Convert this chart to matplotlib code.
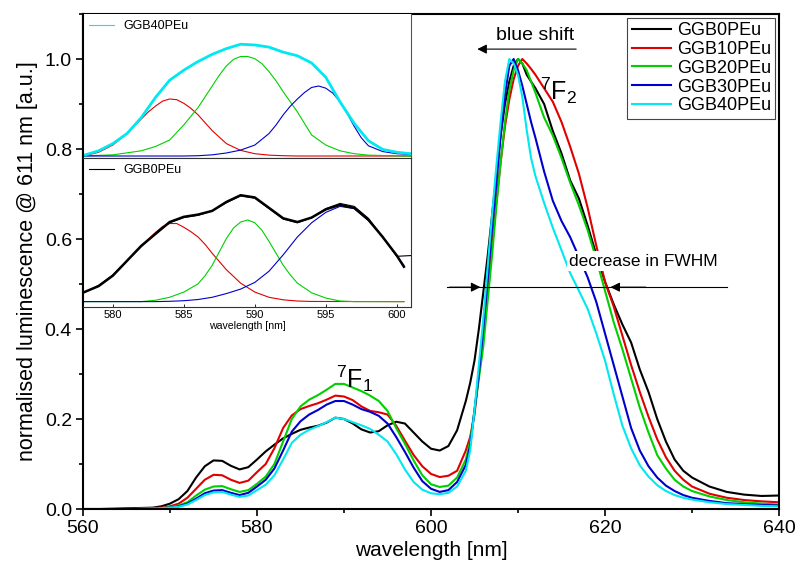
import matplotlib
matplotlib.use("Agg")
import matplotlib.pyplot as plt
from matplotlib.ticker import MultipleLocator

plt.rcParams['font.family'] = ['Liberation Sans', 'DejaVu Sans']
plt.rcParams['mathtext.fontset'] = 'custom'
plt.rcParams['mathtext.rm'] = 'Liberation Sans'

# --- main spectra (normalised @ 611 nm) ---
wl = [560, 562, 564, 566, 568,
      569, 570, 571, 572, 573, 574, 575, 576, 577, 578, 579, 580, 581, 582, 583, 584, 585, 586,
      587, 588, 589, 590, 591, 592, 593, 594, 595, 596, 597, 598, 599, 600, 601, 602, 603, 604,
      604.5, 605, 605.5, 606, 606.5, 607, 607.5, 608, 608.5, 609, 609.5, 610, 610.5, 611, 611.5, 612,
      613, 614, 615, 616, 617, 618, 619, 620, 621, 622, 623, 624, 625, 626, 627, 628, 629, 630,
      632, 634, 636, 638, 640]

ggb0 = [0.0, 0.0, 0.001, 0.002, 0.003,
        0.006, 0.012, 0.022, 0.04, 0.07, 0.095, 0.108, 0.107, 0.096, 0.088, 0.093, 0.11, 0.128, 0.143,
        0.157, 0.167, 0.176, 0.181, 0.185, 0.192, 0.203, 0.2, 0.19, 0.177, 0.17, 0.173, 0.186, 0.194,
        0.19, 0.17, 0.15, 0.134, 0.13, 0.14, 0.175, 0.24,
        0.28, 0.33, 0.4, 0.48, 0.56, 0.65, 0.74, 0.83, 0.9, 0.95, 0.985, 1.0, 0.99, 0.965, 0.95, 0.935,
        0.9, 0.84, 0.79, 0.73, 0.69, 0.63, 0.565, 0.505, 0.455, 0.41, 0.37, 0.31, 0.26, 0.2, 0.15, 0.11,
        0.085, 0.07,
        0.05, 0.038, 0.032, 0.029, 0.03]

ggb10 = [0.0, 0.0, 0.0, 0.001, 0.002,
         0.003, 0.006, 0.012, 0.025, 0.045, 0.065, 0.076, 0.075, 0.065, 0.058, 0.063, 0.082, 0.1, 0.135,
         0.18, 0.208, 0.222, 0.229, 0.235, 0.243, 0.252, 0.25, 0.242, 0.228, 0.218, 0.215, 0.21, 0.185,
         0.152, 0.12, 0.095, 0.078, 0.071, 0.074, 0.085, 0.13,
         0.16, 0.21, 0.3, 0.39, 0.49, 0.58, 0.68, 0.77, 0.85, 0.91, 0.955, 0.985, 1.0, 0.99, 0.978, 0.965,
         0.935, 0.905, 0.86, 0.805, 0.745, 0.67, 0.585, 0.505, 0.45, 0.385, 0.32, 0.26, 0.205, 0.155,
         0.115, 0.085, 0.065, 0.05,
         0.034, 0.025, 0.02, 0.017, 0.015]

ggb20 = [0.0, 0.0, 0.0, 0.0, 0.001,
         0.002, 0.004, 0.008, 0.015, 0.03, 0.043, 0.05, 0.051, 0.044, 0.038, 0.042, 0.056, 0.072, 0.1,
         0.15, 0.2, 0.228, 0.243, 0.253, 0.265, 0.278, 0.278, 0.27, 0.262, 0.252, 0.24, 0.218, 0.18,
         0.145, 0.108, 0.075, 0.055, 0.049, 0.052, 0.07, 0.11,
         0.15, 0.22, 0.29, 0.36, 0.46, 0.56, 0.67, 0.77, 0.86, 0.93, 0.975, 1.0, 0.99, 0.975, 0.95, 0.925,
         0.87, 0.83, 0.78, 0.725, 0.675, 0.62, 0.555, 0.485, 0.415, 0.355, 0.29, 0.225, 0.17, 0.12,
         0.09, 0.065, 0.05, 0.04,
         0.028, 0.02, 0.015, 0.012, 0.01]

ggb30 = [0.0, 0.0, 0.0, 0.0, 0.001,
         0.002, 0.003, 0.006, 0.012, 0.023, 0.035, 0.041, 0.042, 0.036, 0.031, 0.036, 0.05, 0.065, 0.09,
         0.13, 0.172, 0.195, 0.21, 0.22, 0.232, 0.24, 0.24, 0.232, 0.222, 0.216, 0.207, 0.19, 0.16,
         0.127, 0.092, 0.062, 0.045, 0.038, 0.042, 0.06, 0.098,
         0.14, 0.22, 0.3, 0.4, 0.51, 0.62, 0.72, 0.83, 0.92, 0.985, 1.0, 0.975, 0.94, 0.9, 0.86, 0.825,
         0.75, 0.685, 0.64, 0.604, 0.56, 0.515, 0.46, 0.39, 0.32, 0.25, 0.18, 0.13, 0.095, 0.07,
         0.052, 0.04, 0.031, 0.025,
         0.018, 0.013, 0.011, 0.009, 0.008]

ggb40 = [0.0, 0.0, 0.0, 0.0, 0.001,
         0.002, 0.003, 0.005, 0.01, 0.02, 0.031, 0.037, 0.038, 0.032, 0.027, 0.03, 0.042, 0.054, 0.075,
         0.11, 0.147, 0.165, 0.176, 0.184, 0.193, 0.203, 0.2, 0.193, 0.186, 0.178, 0.165, 0.15, 0.122,
         0.088, 0.06, 0.043, 0.035, 0.033, 0.036, 0.05, 0.085,
         0.13, 0.22, 0.32, 0.42, 0.535, 0.65, 0.76, 0.86, 0.95, 1.0, 0.99, 0.965, 0.915, 0.842, 0.78, 0.74,
         0.68, 0.625, 0.575, 0.524, 0.485, 0.445, 0.39, 0.33, 0.255, 0.185, 0.135, 0.097, 0.072, 0.053,
         0.04, 0.031, 0.025, 0.021,
         0.015, 0.011, 0.009, 0.007, 0.006]

labels = ['GGB0PEu', 'GGB10PEu', 'GGB20PEu', 'GGB30PEu', 'GGB40PEu']
colors = ['black', '#e00000', '#00d000', '#0000cc', '#00e8f0']

# --- inset 1: GGB40PEu, 7F1 band with three fitted components ---
wl_in1 = [578, 579, 580, 581, 582, 583, 584, 585, 586, 587, 588, 589,
          590, 591, 592, 593, 594, 595, 596, 597, 598, 599, 600, 601]
in1_data = [0.02, 0.05, 0.1, 0.17, 0.28, 0.42, 0.54, 0.61, 0.67, 0.72, 0.76, 0.79,
            0.785, 0.77, 0.735, 0.71, 0.66, 0.56, 0.39, 0.24, 0.12, 0.06, 0.04, 0.03]
wl_in1_red = [578, 579, 580, 581, 581.5, 582, 582.5, 583, 583.5, 584, 584.5, 585, 585.5,
              586, 586.5, 587, 588, 589, 590, 591, 592, 593, 601]
in1_red = [0.015, 0.04, 0.09, 0.17, 0.22, 0.27, 0.32, 0.36, 0.395, 0.41, 0.405, 0.38, 0.345,
           0.3, 0.245, 0.19, 0.1, 0.053, 0.03, 0.02, 0.016, 0.014, 0.014]
wl_in1_green = [578, 580, 582, 583, 584, 585, 585.5, 586, 586.5, 587, 587.5, 588, 588.5, 589,
                589.5, 590, 590.5, 591, 591.5, 592, 592.5, 593, 594, 595, 596, 597, 598, 600, 601]
in1_green = [0.015, 0.022, 0.05, 0.08, 0.125, 0.23, 0.29, 0.35, 0.425, 0.5, 0.575, 0.64, 0.685, 0.705,
             0.705, 0.69, 0.655, 0.6, 0.535, 0.46, 0.39, 0.32, 0.16, 0.09, 0.05, 0.03, 0.02, 0.015, 0.014]
wl_in1_blue = [578, 585, 586, 587, 588, 589, 590, 591, 591.5, 592, 592.5, 593, 593.5, 594,
               594.5, 595, 595.5, 596, 596.5, 597, 597.5, 598, 599, 600, 601]
in1_blue = [0.014, 0.014, 0.016, 0.022, 0.035, 0.055, 0.09, 0.17, 0.23, 0.3, 0.36, 0.41, 0.455, 0.49,
            0.5, 0.485, 0.45, 0.39, 0.31, 0.22, 0.14, 0.085, 0.045, 0.03, 0.025]

# --- inset 2: GGB0PEu ---
wl_in2 = [578, 579, 580, 581, 582, 583, 584, 585, 586, 587, 588, 589,
          590, 591, 592, 593, 594, 595, 596, 597, 598, 599, 600, 600.5]
wl_in2_raw = [578, 579, 580, 581, 582, 583, 584, 585, 586, 587, 588, 589,
              590, 591, 592, 593, 594, 595, 596, 597, 598, 599, 600, 601]
in2_raw = [0.1, 0.145, 0.215, 0.31, 0.405, 0.49, 0.565, 0.6, 0.615, 0.645, 0.7, 0.745,
           0.73, 0.66, 0.59, 0.565, 0.6, 0.66, 0.695, 0.675, 0.595, 0.47, 0.34, 0.345]
in2_fit = [0.1, 0.14, 0.21, 0.31, 0.41, 0.49, 0.57, 0.605, 0.62, 0.645, 0.705, 0.75,
           0.735, 0.665, 0.595, 0.57, 0.6, 0.655, 0.685, 0.665, 0.585, 0.47, 0.345, 0.27]
wl_in2_red = [578, 579, 580, 581, 582, 583, 583.5, 584, 584.5, 585, 585.5, 586, 586.5, 587, 587.5,
              588, 589, 590, 591, 592, 593, 594, 600.5]
in2_red = [0.1, 0.14, 0.21, 0.31, 0.41, 0.5, 0.54, 0.56, 0.56, 0.535, 0.505, 0.47, 0.42, 0.36, 0.305,
           0.25, 0.16, 0.1, 0.065, 0.048, 0.04, 0.037, 0.036]
wl_in2_green = [578, 582, 583, 584, 585, 586, 586.5, 587, 587.5, 588, 588.5, 589, 589.5, 590,
                590.5, 591, 591.5, 592, 592.5, 593, 594, 595, 596, 597, 600.5]
in2_green = [0.036, 0.036, 0.045, 0.065, 0.1, 0.155, 0.21, 0.28, 0.37, 0.46, 0.53, 0.57, 0.584, 0.565,
             0.515, 0.44, 0.36, 0.28, 0.215, 0.16, 0.095, 0.06, 0.04, 0.036, 0.036]
in2_blue = [0.036, 0.036, 0.036, 0.036, 0.036, 0.036, 0.038, 0.042, 0.05, 0.065, 0.09, 0.12,
            0.165, 0.24, 0.35, 0.47, 0.565, 0.635, 0.675, 0.66, 0.58, 0.475, 0.34, 0.28]

fig = plt.figure(figsize=(7.95, 5.74), dpi=100)
ax = fig.add_axes([0.1044, 0.1132, 0.8755, 0.8624])

for y, lab, c in zip([ggb0, ggb10, ggb20, ggb30, ggb40], labels, colors):
    ax.plot(wl, y, color=c, lw=1.5, label=lab)

ax.set_xlim(560, 640)
ax.set_ylim(0, 1.1)
ax.xaxis.set_major_locator(MultipleLocator(20))
ax.xaxis.set_minor_locator(MultipleLocator(10))
ax.yaxis.set_major_locator(MultipleLocator(0.2))
ax.yaxis.set_minor_locator(MultipleLocator(0.1))
ax.yaxis.set_major_formatter(plt.FuncFormatter(lambda v, p: f'{v:.1f}'))
ax.tick_params(which='major', direction='out', length=5, width=1.2, labelsize=14, pad=3)
ax.tick_params(which='minor', direction='out', length=3, width=1.2)
for s in ax.spines.values():
    s.set_linewidth(1.5)
ax.set_xlabel('wavelength [nm]', fontsize=15, labelpad=3)
ax.set_ylabel('normalised luminescence @ 611 nm [a.u.]', fontsize=15.5, labelpad=5)

leg = ax.legend(loc='upper right', fontsize=13, handlelength=2.2, handletextpad=0.3,
                labelspacing=0.1, borderpad=0.25, borderaxespad=0.2, fancybox=False,
                edgecolor='#444444', framealpha=1)
leg.get_frame().set_linewidth(0.8)

# annotations
ax.text(611.95, 1.053, 'blue shift', fontsize=14, ha='center', va='center')
ax.annotate('', xy=(605.0, 1.022), xytext=(617.0, 1.022),
            arrowprops=dict(arrowstyle='-|>', color='black', lw=0.8, mutation_scale=14))
ax.text(614.7, 0.93, r'$\mathregular{^7F_2}$', fontsize=18, ha='center', va='center')
ax.text(591.2, 0.29, r'$\mathregular{^7F_1}$', fontsize=18, ha='center', va='center')
ax.plot([601.8, 634.0], [0.493, 0.493], color='black', lw=0.8)
ax.annotate('', xy=(606.0, 0.493), xytext=(601.8, 0.493),
            arrowprops=dict(arrowstyle='-|>', color='black', lw=0.8, mutation_scale=14))
ax.annotate('', xy=(620.3, 0.493), xytext=(625.0, 0.493),
            arrowprops=dict(arrowstyle='-|>', color='black', lw=0.8, mutation_scale=14))
ax.text(624.4, 0.551, 'decrease in FWHM', fontsize=12.5, ha='center', va='center',
        bbox=dict(facecolor='white', edgecolor='none', pad=1.5))

# inset 1
ax1 = fig.add_axes([0.1044, 0.7247, 0.4126, 0.2509])
ax1.plot(wl_in1_red, in1_red, color='#e00000', lw=0.8)
ax1.plot(wl_in1_green, in1_green, color='#00d000', lw=0.8)
ax1.plot(wl_in1_blue, in1_blue, color='#0000cc', lw=0.8)
ax1.plot(wl_in1, in1_data, color='#00e8f0', lw=2.0)
ax1.plot([], [], color='#00e8f0', lw=0.8, label='GGB40PEu')
ax1.legend(loc='upper left', fontsize=9, frameon=False, handlelength=2.0,
           handletextpad=0.7, borderaxespad=0.2, borderpad=0.3)
ax1.set_xlim(577.9, 601)
ax1.set_ylim(0, 1)
ax1.set_yticks([])
ax1.xaxis.set_major_locator(MultipleLocator(5))
ax1.xaxis.set_minor_locator(MultipleLocator(2.5))
ax1.tick_params(axis='x', which='both', direction='out', length=3, width=0.8, labelbottom=False)
for k, s in ax1.spines.items():
    s.set_linewidth(0.8)
    s.set_color('#555555')
ax1.spines['left'].set_linewidth(1.5)
ax1.spines['left'].set_color('black')
ax1.spines['top'].set_visible(False)

# inset 2
ax2 = fig.add_axes([0.1044, 0.4652, 0.4126, 0.2596])
ax2.plot(wl_in2_red, in2_red, color='#e00000', lw=0.8)
ax2.plot(wl_in2_green, in2_green, color='#00d000', lw=0.8)
ax2.plot(wl_in2, in2_blue, color='#0000cc', lw=0.8)
ax2.plot(wl_in2, in2_fit, color='black', lw=1.8)
ax2.plot(wl_in2_raw, in2_raw, color='black', lw=0.8)
ax2.plot([], [], color='black', lw=0.8, label='GGB0PEu')
ax2.legend(loc='upper left', fontsize=9, frameon=False, handlelength=2.0,
           handletextpad=0.7, borderaxespad=0.2, borderpad=0.3)
ax2.set_xlim(577.9, 601)
ax2.set_ylim(0, 1)
ax2.set_yticks([])
ax2.xaxis.set_major_locator(MultipleLocator(5))
ax2.tick_params(axis='x', direction='in', length=2, width=0.6, labelsize=8, pad=2)
ax2.set_xlabel('wavelength [nm]', fontsize=7.6, labelpad=1)
for k, s in ax2.spines.items():
    s.set_linewidth(0.8)
    s.set_color('#333333')
ax2.spines['left'].set_linewidth(1.5)
ax2.spines['left'].set_color('black')

fig.savefig('out.png', dpi=100)
